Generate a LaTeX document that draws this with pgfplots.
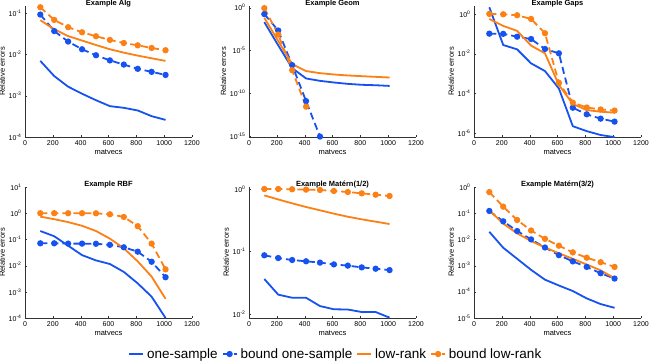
\documentclass[border=0pt]{standalone}
\usepackage{fontspec}
\setmainfont{Liberation Sans}
\usepackage{pgfplots}
\pgfplotsset{compat=1.18}
\definecolor{oneblue}{RGB}{22,82,240}
\definecolor{lrorange}{RGB}{252,128,20}
\pgfplotsset{
  log number format basis/.code 2 args={#1\textsuperscript{\pgfmathprintnumber[assume math mode=true]{#2}}},
  panel/.style={
    scale only axis, width=167pt, height=131pt,
    xmin=0, xmax=1200, xtick={0,200,...,1200},
    /pgf/number format/assume math mode=true,
    /pgf/number format/1000 sep={},
    axis lines*=left, axis line style={-, black!80},
    tick align=inside, major tick length=2pt, tick style={black!80},
    yminorticks=false,
    xlabel={matvecs}, ylabel={Relative errors},
    tick label style={font=\fontsize{7}{8}\selectfont},
    label style={font=\fontsize{7.5}{9}\selectfont},
    xlabel style={yshift=3pt},
    ylabel style={yshift=-3pt},
    every axis title shift=0pt,
    title style={font=\fontsize{7.5}{9}\selectfont\bfseries, at={(0.5,1)}, anchor=center, yshift=2.5pt, inner sep=0pt},
  },
  onesample/.style={oneblue, line width=1.8pt, no marks},
  boundone/.style={oneblue, line width=1.8pt, dash pattern=on 7pt off 4pt, mark=*, mark size=2.2pt, mark options={solid}},
  lowrank/.style={lrorange, line width=1.8pt, no marks},
  boundlow/.style={lrorange, line width=1.8pt, dash pattern=on 7pt off 4pt, mark=*, mark size=2.2pt, mark options={solid}},
}
\begin{document}
\begin{tikzpicture}
\path[use as bounding box] (0,0) rectangle (651pt,362pt);

% ---- row 1 ----
\begin{semilogyaxis}[panel, at={(25pt,225pt)}, anchor=south west,
  title={Example Alg}, ymin=1e-4, ymax=0.15, ytick={1e-4,1e-3,1e-2,1e-1}]
\addplot[onesample] coordinates {(110,7.0e-3) (210,3.0e-3) (310,1.66e-3) (410,1.12e-3) (510,7.8e-4) (610,5.6e-4) (710,5.1e-4) (810,4.4e-4) (910,3.2e-4) (1010,2.6e-4)};
\addplot[boundone] coordinates {(110,0.093) (210,0.037) (310,0.0206) (410,0.0134) (510,0.0096) (610,0.0072) (710,0.0057) (810,0.0045) (910,0.0038) (1010,0.0032)};
\addplot[lowrank] coordinates {(110,0.068) (210,0.041) (310,0.028) (410,0.0218) (510,0.017) (610,0.0134) (710,0.0111) (810,0.0094) (910,0.0081) (1010,0.0070)};
\addplot[boundlow] coordinates {(110,0.14) (210,0.069) (310,0.046) (410,0.0346) (510,0.0277) (610,0.0226) (710,0.019) (810,0.0167) (910,0.0144) (1010,0.0127)};
\end{semilogyaxis}

\begin{semilogyaxis}[panel, at={(249pt,225pt)}, anchor=south west,
  title={Example Geom}, ymin=8e-16, ymax=1.6, ytick={1e-15,1e-10,1e-5,1}]
\addplot[onesample] coordinates {(110,0.0209) (210,4.1e-5) (310,8.9e-8) (410,5.5e-9) (510,2.9e-9) (610,1.86e-9) (710,1.29e-9) (810,1.0e-9) (910,8.9e-10) (1010,7.4e-10)};
\addplot[boundone] coordinates {(110,0.182) (210,2.19e-3) (310,2.0e-7) (410,1.26e-11) (510,9e-16)};
\addplot[lowrank] coordinates {(110,0.066) (210,1.32e-4) (310,2.6e-7) (410,4.0e-8) (510,2.3e-8) (610,1.6e-8) (710,1.23e-8) (810,1.02e-8) (910,8.5e-9) (1010,7.1e-9)};
\addplot[boundlow] coordinates {(110,0.91) (210,7.4e-4) (310,5.1e-8) (410,2.8e-12)};
\end{semilogyaxis}

\begin{semilogyaxis}[panel, at={(474pt,225pt)}, anchor=south west,
  title={Example Gaps}, ymin=6.6e-7, ymax=2.5, ytick={1e-6,1e-4,1e-2,1}]
\addplot[onesample] coordinates {(110,2.15) (210,0.0275) (310,0.0166) (410,3.3e-3) (510,1.35e-3) (610,1.8e-4) (710,2.3e-6) (810,1.3e-6) (910,8.3e-7) (1010,6.5e-7)};
\addplot[boundone] coordinates {(110,0.102) (210,0.1) (310,0.072) (410,0.055) (510,0.0174) (610,0.0105) (710,1.95e-5) (810,9.1e-6) (910,5.5e-6) (1010,3.9e-6)};
\addplot[lowrank] coordinates {(110,0.56) (210,0.25) (310,0.141) (410,0.0257) (510,0.0105) (610,2.7e-4) (710,3.0e-5) (810,1.48e-5) (910,1.23e-5) (1010,1.1e-5)};
\addplot[boundlow] coordinates {(110,1.0) (210,0.96) (310,0.86) (410,0.56) (510,0.107) (610,3.5e-4) (710,3.5e-5) (810,2.0e-5) (910,1.6e-5) (1010,1.4e-5)};
\end{semilogyaxis}

% ---- row 2 ----
\begin{semilogyaxis}[panel, at={(25pt,44pt)}, anchor=south west,
  title={Example RBF}, ymin=1e-4, ymax=10, ytick={1e-4,1e-3,1e-2,1e-1,1,10}]
\addplot[onesample] coordinates {(110,0.209) (210,0.132) (310,0.0575) (410,0.0251) (510,0.0158) (610,0.0115) (710,5.75e-3) (810,2.1e-3) (910,6.5e-4) (1010,1.0e-4)};
\addplot[boundone] coordinates {(110,0.071) (210,0.071) (310,0.069) (410,0.069) (510,0.068) (610,0.062) (710,0.050) (810,0.034) (910,0.014) (1010,3.6e-3)};
\addplot[lowrank] coordinates {(110,0.74) (210,0.59) (310,0.457) (410,0.331) (510,0.209) (610,0.107) (710,0.0457) (810,0.0145) (910,3.8e-3) (1010,5.4e-4)};
\addplot[boundlow] coordinates {(110,1.0) (210,1.0) (310,1.0) (410,1.0) (510,0.99) (610,0.91) (710,0.72) (810,0.32) (910,0.069) (1010,7.2e-3)};
\end{semilogyaxis}

\begin{semilogyaxis}[panel, at={(249pt,44pt)}, anchor=south west,
  title={Example Matérn(1/2)}, ymin=8.63e-3, ymax=1.076, ytick={1e-2,1e-1,1},
  legend columns=4,
  legend style={draw=none, fill=none, at={(0.52,-0.275)}, anchor=center,
    font=\fontsize{13.5}{16}\selectfont, inner sep=0pt,
    /tikz/every even column/.style={column sep=2pt},
    /tikz/every odd column/.style={column sep=1pt}},
  legend image code/.code={\draw[mark repeat=2,mark phase=2,#1] plot coordinates {(0pt,0pt) (7pt,0pt) (14pt,0pt)};},
  ]
\addplot[onesample] coordinates {(110,0.0363) (210,0.0204) (310,0.0182) (410,0.0182) (510,0.0134) (610,0.0119) (710,0.0118) (810,0.01076) (910,0.01076) (1010,0.00873)};
\addlegendentry{one-sample}
\addplot[boundone] coordinates {(110,0.0869) (210,0.0786) (310,0.0731) (410,0.0697) (510,0.0664) (610,0.0622) (710,0.0594) (810,0.0557) (910,0.053) (1010,0.0504)};
\addlegendentry{bound one-sample}
\addplot[lowrank] coordinates {(110,0.79) (210,0.68) (310,0.59) (410,0.515) (510,0.456) (610,0.403) (710,0.36) (810,0.327) (910,0.30) (1010,0.275)};
\addlegendentry{low-rank}
\addplot[boundlow] coordinates {(110,1.0) (210,1.0) (310,0.99) (410,0.976) (510,0.964) (610,0.929) (710,0.895) (810,0.852) (910,0.81) (1010,0.773)};
\addlegendentry{bound low-rank}
\end{semilogyaxis}

\begin{semilogyaxis}[panel, at={(474pt,44pt)}, anchor=south west,
  title={Example Matérn(3/2)}, ymin=1e-5, ymax=1, ytick={1e-5,1e-4,1e-3,1e-2,1e-1,1}]
\addplot[onesample] coordinates {(110,0.0195) (210,4.8e-3) (310,1.82e-3) (410,6.9e-4) (510,2.9e-4) (610,1.74e-4) (710,1.07e-4) (810,5.6e-5) (910,3.4e-5) (1010,2.45e-5)};
\addplot[boundone] coordinates {(110,0.122) (210,0.049) (310,0.0209) (410,0.01) (510,4.9e-3) (610,2.5e-3) (710,1.45e-3) (810,8.9e-4) (910,5.1e-4) (1010,3.2e-4)};
\addplot[lowrank] coordinates {(110,0.129) (210,0.040) (310,0.017) (410,8.7e-3) (510,4.9e-3) (610,2.95e-3) (710,1.82e-3) (810,1.1e-3) (910,6.6e-4) (1010,3.3e-4)};
\addplot[boundlow] coordinates {(110,0.64) (210,0.178) (310,0.055) (410,0.0219) (510,0.0105) (610,5.75e-3) (710,3.2e-3) (810,2.0e-3) (910,1.35e-3) (1010,8.9e-4)};
\end{semilogyaxis}
\end{tikzpicture}
\end{document}
